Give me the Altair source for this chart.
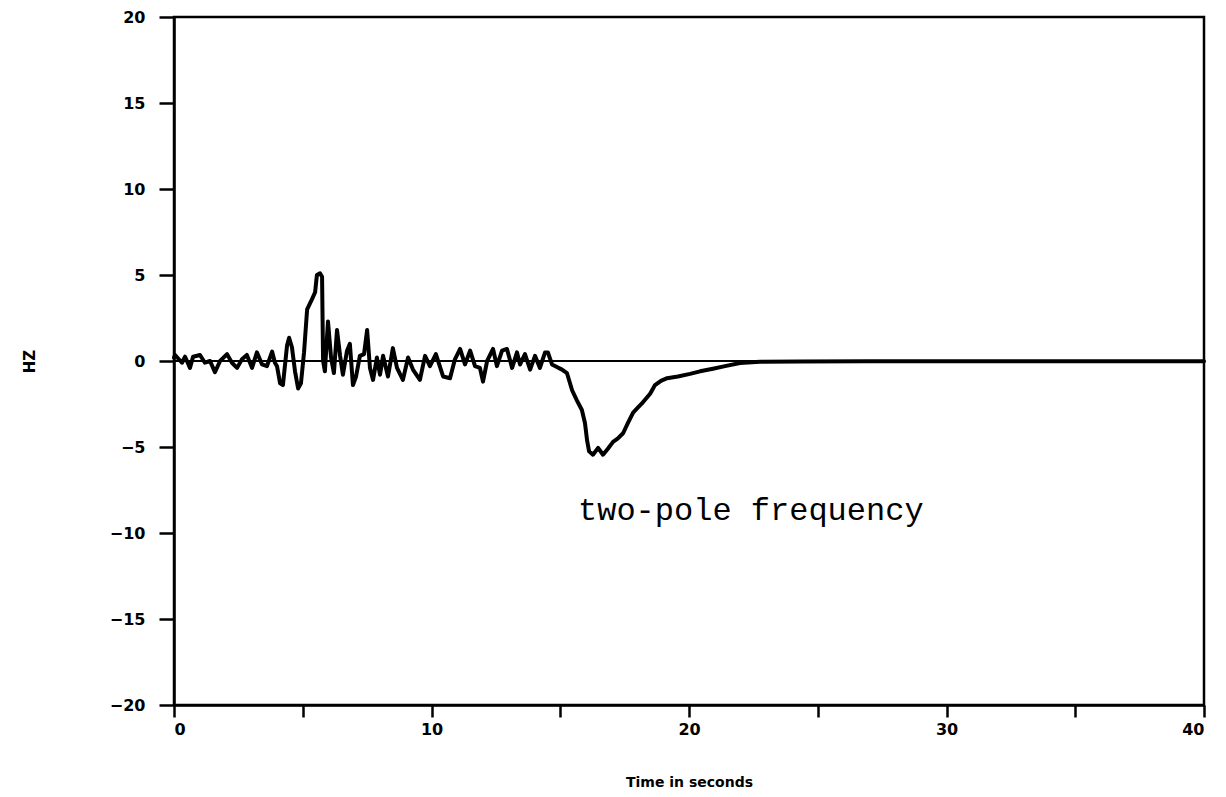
import altair as alt
import pandas as pd

# Two-pole frequency estimate (Hz) against time (s)
time_s = [
    0.0, 0.04, 0.31, 0.43, 0.62, 0.74, 1.01, 1.2, 1.4, 1.59, 1.79, 2.06, 2.25,
    2.45, 2.64, 2.83, 3.03, 3.22, 3.42, 3.61, 3.81, 3.92, 4.0, 4.12, 4.23,
    4.39, 4.47, 4.58, 4.7, 4.82, 4.93, 5.05, 5.17, 5.36, 5.48, 5.55, 5.67,
    5.75, 5.79, 5.86, 5.98, 6.1, 6.21, 6.33, 6.45, 6.56, 6.72, 6.83, 6.95,
    7.07, 7.22, 7.38, 7.5, 7.61, 7.73, 7.88, 8.0, 8.12, 8.31, 8.5, 8.66,
    8.89, 9.09, 9.28, 9.55, 9.75, 9.94, 10.17, 10.45, 10.72, 10.91, 11.11,
    11.3, 11.5, 11.69, 11.88, 12.0, 12.16, 12.39, 12.54, 12.74, 12.93,
    13.13, 13.32, 13.44, 13.63, 13.83, 14.02, 14.21, 14.41, 14.52, 14.68,
    14.87, 15.07, 15.26, 15.46, 15.65, 15.84, 15.96, 16.04, 16.12, 16.27,
    16.47, 16.66, 16.85, 17.05, 17.24, 17.44, 17.63, 17.83, 18.02, 18.21,
    18.49, 18.68, 18.91, 19.15, 19.57, 20.04, 20.43, 20.93, 21.4, 21.98,
    22.76, 24.3, 27.0, 30.0, 33.0, 36.0, 40.0,
]
freq_hz = [
    0.2, 0.35, -0.1, 0.25, -0.4, 0.25, 0.35, -0.1, 0.0, -0.65, 0.0, 0.4, -0.1,
    -0.4, 0.1, 0.35, -0.4, 0.5, -0.2, -0.3, 0.55, -0.1, -0.3, -1.3, -1.4,
    0.9, 1.35, 0.8, -0.6, -1.6, -1.3, 0.5, 3.0, 3.6, 4.0, 5.0, 5.1,
    4.9, 0.0, -0.6, 2.3, 0.2, -0.7, 1.8, 0.3, -0.8, 0.6, 1.0, -1.4,
    -0.9, 0.3, 0.4, 1.8, -0.4, -1.1, 0.2, -0.8, 0.3, -0.9, 0.75, -0.4,
    -1.1, 0.2, -0.5, -1.1, 0.3, -0.3, 0.4, -0.9, -1.0, 0.1, 0.7,
    -0.2, 0.6, -0.3, -0.4, -1.2, 0.0, 0.7, -0.3, 0.6, 0.7,
    -0.4, 0.5, -0.2, 0.4, -0.5, 0.3, -0.4, 0.5, 0.5, -0.2,
    -0.35, -0.5, -0.7, -1.7, -2.3, -2.85, -3.6, -4.6, -5.25, -5.45,
    -5.05, -5.45, -5.1, -4.7, -4.5, -4.2, -3.6, -3.0, -2.7, -2.4,
    -1.9, -1.4, -1.15, -1.0, -0.9, -0.75, -0.6, -0.45, -0.3, -0.12,
    -0.05, -0.03, -0.02, -0.02, -0.02, -0.02, -0.02,
]

x_ticks = [0, 5, 10, 15, 20, 25, 30, 35, 40]
y_ticks = [-20, -15, -10, -5, 0, 5, 10, 15, 20]

note_text = ["two-pole frequency"]
note_t = [22.4]
note_v = [-8.66]

df = pd.DataFrame({"t": time_s, "f": freq_hz})
zero_df = pd.DataFrame({"t": [0], "t2": [40], "f": [0]})
note_df = pd.DataFrame({"t": note_t, "f": note_v, "label": note_text})

label_font = "DejaVu Sans"

x_scale = alt.Scale(domain=[0, 40], nice=False, zero=False)
y_scale = alt.Scale(domain=[-20, 20], nice=False, zero=False)

x_axis = alt.Axis(
    values=x_ticks,
    labelExpr="datum.value % 10 == 0 ? datum.label : ''",
    grid=False,
    domainColor="black", domainWidth=2.5,
    tickColor="black", tickWidth=2.5, tickSize=12,
    labelFont=label_font, labelFontWeight="bold", labelFontSize=16,
    labelColor="black", labelPadding=4,
    title="Time in seconds",
    titleFont=label_font, titleFontWeight="bold", titleFontSize=14,
    titleColor="black", titlePadding=38,
)
y_axis = alt.Axis(
    values=y_ticks,
    grid=False,
    domainColor="black", domainWidth=2.5,
    tickColor="black", tickWidth=2.5, tickSize=15,
    labelFont=label_font, labelFontWeight="bold", labelFontSize=16,
    labelColor="black", labelPadding=14,
    title="HZ",
    titleFont=label_font, titleFontWeight="bold", titleFontSize=15,
    titleColor="black", titlePadding=72,
)

zero_line = alt.Chart(zero_df).mark_rule(color="black", strokeWidth=2).encode(
    x=alt.X("t:Q", scale=x_scale, axis=x_axis),
    x2="t2:Q",
    y=alt.Y("f:Q", scale=y_scale, axis=y_axis),
)

trace = alt.Chart(df).mark_line(
    color="black", strokeWidth=4, strokeJoin="round", strokeCap="round"
).encode(
    x=alt.X("t:Q", scale=x_scale),
    y=alt.Y("f:Q", scale=y_scale),
    order="t:Q",
)

note = alt.Chart(note_df).mark_text(
    font="Liberation Mono", fontSize=32, color="black", align="center",
    baseline="middle",
).encode(
    x=alt.X("t:Q", scale=x_scale),
    y=alt.Y("f:Q", scale=y_scale),
    text="label:N",
)

chart = (
    alt.layer(zero_line, trace, note)
    .properties(
        width=1030,
        height=688,
        autosize=alt.AutoSizeParams(type="none"),
        padding={"left": 174, "top": 17, "right": 22, "bottom": 92},
        background="white",
    )
    .configure_view(stroke="black", strokeWidth=2.5)
)

chart.save("out.html", embed_options={"renderer": "svg", "actions": False})
